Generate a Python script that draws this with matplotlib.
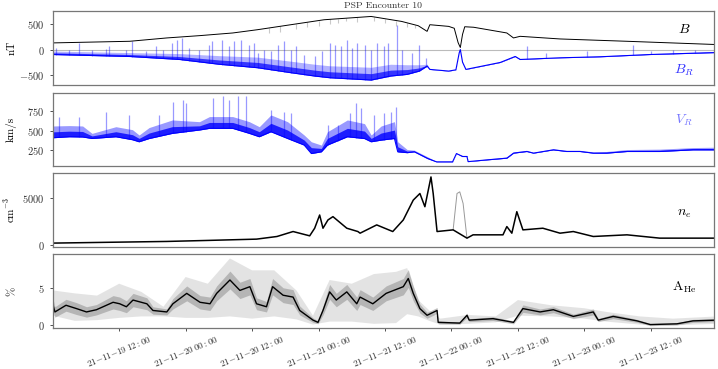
import numpy as np
import pandas as pd
import matplotlib
matplotlib.use("Agg")
import matplotlib.pyplot as plt
from matplotlib.ticker import FuncFormatter

plt.rcParams['font.family'] = 'serif'
plt.rcParams['font.serif'] = ['cmr10', 'DejaVu Serif']
plt.rcParams['mathtext.fontset'] = 'cm'
plt.rcParams['axes.formatter.use_mathtext'] = True

T0 = pd.Timestamp('2021-11-19 00:00')

# ---- |B| (nT), times in hours since T0 ----
b_t = [0, 13.9, 20.6, 26.6, 32.5, 37, 43, 49, 57.5, 63, 66, 67.6, 68.1, 71.5, 72.5,
       73.2, 73.6, 74.0, 74.4, 76, 82, 83.2, 84.4, 91.6, 103.7, 120]
b_val = [131, 163, 229, 275, 327, 392, 490, 588, 653, 555, 470, 359, 490, 457, 420,
         137, 40, 300, 450, 440, 327, 229, 261, 209, 163, 98]
b_dip_t = [39, 41, 44, 46, 48, 50, 51.5, 53, 55, 58, 60, 62, 64, 65.5]
b_dip_val = [330, 350, 400, 440, 470, 500, 520, 560, 540, 560, 520, 470, 450, 420]

# ---- B_R (nT) ----
br_t = [0, 13.9, 22.9, 30, 37, 43, 47.3, 50, 57.5, 61, 64, 66.2, 67.6, 68.1, 71.5,
        72.8, 73.4, 73.6, 74.0, 74.6, 80.8, 83.5, 84.4, 91.6, 98.8, 107.9, 120]
br_base = [-98, -137, -196, -290, -359, -457, -523, -556, -602, -523, -490, -425, -327,
           -392, -425, -400, -65, 0, -250, -392, -255, -137, -196, -163, -143, -98, -59]
br_fuzz = [-30, -60, -80, -120, -150, -230, -290, -320, -350, -290, -300, -300, -290,
           -385, -415, -390, -60, 0, -240, -380, -240, -120, -180, -150, -125, -80, -35]
br_spk_t = [0.6, 3.0, 4.8, 7.1, 9.6, 10.2, 13.3, 14.4, 16.9, 18.7, 19.9, 21.6, 22.5,
            23.4, 24.6, 26.5, 28.3, 28.8, 30.6, 31.8, 32.8, 34, 35.5, 36.4, 37, 38.2,
            39.4, 40.6, 41.8, 43, 43.9, 45.4, 47.3, 48.7, 50, 50.9, 52.1, 53.2, 54.1,
            55, 56.3, 57.5, 58.5, 59.9, 60.5, 62.1, 63, 64.8, 66.2, 67.4, 85.6, 89,
            96.5, 104.8, 108, 112, 116]
br_spk_val = [33, 0, 131, 0, 13, 65, 0, 163, -20, 65, 0, 131, 196,
              229, 33, 0, 98, 163, 196, 65, 163, 196, 98, 131, -65, 0,
              -33, 98, 163, 0, 65, -98, -131, -33, 131, 98, 65, 196, 33,
              131, 98, 0, 131, 65, 131, 490, 0, -65, 98, -163, 65, -59,
              -26, 98, -20, -10, -5]

# ---- V_R (km/s) ----
vr_t = [0, 3.0, 5.4, 7.1, 11.4, 14.4, 15.6, 17.4, 21.6, 26.5, 28.3, 32.5, 35.5, 37.3,
        39.4, 42.4, 45.4, 46.7, 48.5, 49.6, 53.2, 56.3, 57.5, 59.3, 61.7, 62.3, 64,
        65.3, 67.7, 69.3, 72.2, 72.9, 74.0, 74.8, 75, 78.4, 82, 83.2, 85.6, 86.8, 90.4,
        92.8, 95.2, 97.6, 100, 103.7, 109.6, 115.6, 120]
vr_base = [410, 423, 420, 401, 423, 385, 359, 400, 466, 509, 530, 530, 466, 423,
           487, 401, 317, 209, 231, 317, 423, 400, 359, 380, 401, 231, 220,
           231, 145, 103, 103, 209, 171, 171, 106, 128, 150, 214, 235, 214, 256,
           235, 235, 214, 214, 235, 235, 256, 256]
vr_fuzz = [560, 565, 560, 466, 551, 513, 445, 540, 637, 615, 680, 680, 615, 551,
           701, 615, 445, 359, 317, 487, 637, 590, 445, 560, 615, 359, 260,
           252, 167, 110, 110, 215, 185, 185, 112, 140, 165, 230, 250, 225, 270,
           250, 250, 230, 235, 260, 265, 285, 290]
vr_spk_t = [1.2, 4.8, 9.6, 13.8, 19.2, 21.7, 23.5, 24.1, 28.9, 30.7, 31.9, 33.4, 34.9,
            39.4, 41.8, 43, 49.7, 51.5, 53.6, 54.8, 55.7, 58.1, 59.9, 61.1, 62]
vr_spk_val = [680, 673, 744, 701, 701, 872, 893, 850, 915, 936, 893, 936, 936,
              765, 744, 722, 573, 573, 722, 850, 787, 701, 722, 744, 808]

# ---- n_e (cm^-3) ----
ne_t = [0, 20.6, 27.8, 36.8, 40.5, 43.4, 46.4, 47.3, 48.2, 48.8, 49.7, 50.6, 53.1, 55.1,
        55.5, 58.5, 61.4, 63.3, 65.1, 66.3, 67.2, 68.3, 68.7, 69.4, 72.3, 74.8, 75.9,
        81.3, 82, 82.9, 83.8, 84.9, 88.5, 91.6, 94, 97.6, 103.7, 109.6, 115.6, 120]
ne_val = [177, 355, 461, 603, 887, 1418, 957, 1773, 3190, 1773, 2660, 3014, 1773, 1418,
          1241, 2128, 1418, 2660, 4787, 5496, 4078, 7270, 5496, 1418, 1596, 709, 1064,
          1064, 1950, 1241, 3546, 1596, 1773, 1241, 1418, 887, 1064, 709, 709, 709]
ne_gap_t = [72.3, 73.0, 73.5, 74.1, 74.8]
ne_gap_val = [1596, 5496, 5674, 4433, 709]

# ---- A_He (%) ----
ahe_t = [0, 0.4, 2.4, 4.3, 6.1, 7.9, 10.9, 12.1, 13.3, 14.5, 17, 18.1, 20.6, 21.7, 24.2,
         26.6, 28.4, 29.6, 32, 33.8, 35.6, 36.8, 38.6, 39.7, 41.6, 43.4, 44.6, 47, 47.9,
         48.8, 50, 51.2, 53.1, 54.9, 55.5, 57.8, 60.2, 63.3, 64.2, 65.1, 66.3, 67.6,
         69.4, 69.6, 73.5, 74.8, 75.2, 79.5, 83.2, 84.9, 88, 90.4, 94, 97.6, 98.5,
         101.2, 105.5, 107.9, 112.7, 115.6, 120]
ahe_val = [2.9, 1.8, 2.7, 2.25, 1.8, 2.1, 3.1, 2.9, 2.5, 3.4, 2.9, 2.0, 1.8, 2.9, 4.3,
           3.1, 2.9, 4.3, 6.1, 4.7, 5.2, 2.9, 2.5, 5.2, 4.05, 3.8, 2.0, 0.7, 0.4,
           2.0, 4.5, 3.4, 4.5, 2.9, 3.8, 2.9, 4.3, 5.2, 6.3, 4.3, 2.25, 1.35,
           2.0, 0.4, 0.3, 1.35, 0.7, 0.9, 0.4, 2.25, 1.8, 2.1, 1.2, 1.8, 0.7,
           1.2, 0.6, 0.1, 0.2, 0.6, 0.7]
ahe_err = [0.8, 0.7, 0.8, 0.8, 0.7, 0.7, 0.9, 0.9, 0.8, 0.9, 0.8, 0.5, 0.4, 0.7, 1.0,
           0.9, 0.9, 1.0, 1.2, 1.1, 1.1, 0.8, 0.7, 1.1, 1.0, 1.0, 0.6, 0.3, 0.2,
           0.6, 1.0, 0.9, 1.0, 0.9, 1.0, 0.9, 1.0, 1.1, 1.2, 1.0, 0.6, 0.4,
           0.4, 0.2, 0.15, 0.3, 0.2, 0.25, 0.2, 0.5, 0.4, 0.4, 0.3, 0.4, 0.2,
           0.3, 0.2, 0.15, 0.15, 0.2, 0.2]
band_t = [0, 4, 8, 12, 16, 20, 24, 28, 32, 36, 40, 44, 47, 50, 54, 58, 62, 64, 66, 68,
          70, 75, 80, 84, 90, 96, 100, 106, 112, 120]
band_hi = [4.7, 4.3, 4.0, 5.6, 4.5, 2.5, 6.5, 5.6, 9.0, 7.4, 7.4, 4.7, 1.3, 6.1, 5.6,
           6.9, 7.2, 7.7, 3.4, 2.0, 0.9, 1.4, 1.2, 3.4, 2.7, 2.3, 1.8, 1.2, 0.9, 1.2]
band_lo = [1.3, 0.6, 0.7, 1.0, 1.2, 1.2, 1.0, 1.0, 1.2, 0.9, 1.2, 0.8, 0.1, 0.5, 0.5,
           0.2, 0.3, 1.5, 1.2, 0.6, 0.1, 0.2, 0.4, 1.3, 1.2, 0.9, 0.5, 0.1, 0.0, 0.2]

tick_hours = [12, 24, 36, 48, 60, 72, 84, 96, 108]


def tt(h):
    return T0 + pd.to_timedelta(np.asarray(h, float), unit='h')


def date_fmt(x, pos):
    d = matplotlib.dates.num2date(x)
    return r'$\mathdefault{%s{-}%s{-}%s\;%s{:}%s}$' % (
        d.strftime('%y'), d.strftime('%m'), d.strftime('%d'), d.strftime('%H'), d.strftime('%M'))


def spiky_fill(ax, t, base, top, color, a_dense, a_light):
    # dense core near the baseline, lighter fuzz above it
    base = np.asarray(base, float)
    top = np.asarray(top, float)
    ax.fill_between(tt(t), base, top, color=color, alpha=a_light, lw=0)
    ax.fill_between(tt(t), base, base + 0.5 * (top - base), color=color, alpha=a_dense, lw=0)


fig = plt.figure(figsize=(7.18, 3.69), dpi=100)
rects = [(0.0738, 0.7696, 0.9206, 0.2005),
         (0.0738, 0.5501, 0.9206, 0.1978),
         (0.0738, 0.3314, 0.9206, 0.1989),
         (0.0738, 0.1103, 0.9206, 0.2014)]
axes = []
for r in rects:
    ax = fig.add_axes(r, sharex=axes[0] if axes else None)
    axes.append(ax)
    for s in ax.spines.values():
        s.set_color('#777777')
        s.set_linewidth(0.9)
    ax.tick_params(axis='y', labelsize=7.5, colors='#333333', length=2.5, width=0.6)
    ax.tick_params(axis='x', labelsize=6.5, colors='#333333', length=2.5, width=0.6, pad=1.5)
ax1, ax2, ax3, ax4 = axes

blue = '#0000ff'

# panel 1: B and B_R
ax1.axhline(0, color='#bbbbbb', lw=0.8, zorder=0)
spiky_fill(ax1, br_t, br_base, br_fuzz, blue, 0.7, 0.3)
ax1.vlines(tt(br_spk_t), np.interp(br_spk_t, br_t, br_base), br_spk_val,
           color=blue, alpha=0.4, lw=0.9)
ax1.plot(tt(br_t), br_base, color=blue, lw=0.8)
ax1.vlines(tt(b_dip_t), b_dip_val, np.interp(b_dip_t, b_t, b_val),
           color='#666666', alpha=0.35, lw=0.8)
ax1.plot(tt(b_t), b_val, color='black', lw=0.7)
ax1.set_ylim(-700, 760)
ax1.set_yticks([-500, 0, 500])
ax1.set_ylabel('nT', fontsize=8)
ax1.text(0.955, 0.75, '$B$', transform=ax1.transAxes, fontsize=10, color='black', ha='center', va='center')
ax1.text(0.955, 0.2, '$B_R$', transform=ax1.transAxes, fontsize=10, color='#3333ff', ha='center', va='center')
ax1.set_title('PSP Encounter 10', fontsize=7, pad=2, color='#333333')

# panel 2: V_R
spiky_fill(ax2, vr_t, vr_base, vr_fuzz, blue, 0.8, 0.4)
ax2.vlines(tt(vr_spk_t), np.interp(vr_spk_t, vr_t, vr_base), vr_spk_val,
           color=blue, alpha=0.4, lw=0.9)
ax2.plot(tt(vr_t), vr_base, color=blue, lw=0.8)
ax2.set_ylim(50, 980)
ax2.set_yticks([250, 500, 750])
ax2.set_ylabel('km/s', fontsize=8)
ax2.text(0.955, 0.63, '$V_R$', transform=ax2.transAxes, fontsize=10, color='#7777ff', ha='center', va='center')

# panel 3: n_e
ax3.plot(tt(ne_gap_t), ne_gap_val, color='#999999', lw=0.7)
ax3.plot(tt(ne_t), ne_val, color='black', lw=1.1)
ax3.set_ylim(-210, 7660)
ax3.set_yticks([0, 5000])
ax3.set_ylabel('cm$^{-3}$', fontsize=8)
ax3.text(0.955, 0.45, '$n_e$', transform=ax3.transAxes, fontsize=10, color='black', ha='center', va='center')

# panel 4: A_He
ax4.fill(np.concatenate([tt(band_t), tt(band_t)[::-1]]),
         np.concatenate([band_hi, band_lo[::-1]]), color='#bbbbbb', alpha=0.4, lw=0)
ahe_v = np.array(ahe_val)
ahe_e = np.array(ahe_err)
ax4.fill_between(tt(ahe_t), ahe_v - ahe_e, ahe_v + ahe_e, color='#888888', alpha=0.5, lw=0)
ax4.plot(tt(ahe_t), ahe_val, color='black', lw=1.0)
ax4.set_ylim(-0.4, 9.6)
ax4.set_yticks([0, 5])
ax4.set_ylabel('%', fontsize=8)
ax4.text(0.955, 0.55, r'$\mathrm{A_{He}}$', transform=ax4.transAxes, fontsize=10, color='black', ha='center', va='center')

ax4.set_xlim(tt([0.05])[0], tt([119.4])[0])
ax4.set_xticks(list(tt(tick_hours)))
ax4.xaxis.set_major_formatter(FuncFormatter(date_fmt))
for lab in ax4.get_xticklabels():
    lab.set_rotation(22)
    lab.set_ha('center')
for ax in (ax1, ax2, ax3):
    ax.tick_params(axis='x', labelbottom=False, length=0)

for ax in axes:
    ax.yaxis.set_label_coords(-0.055, 0.5)

fig.savefig('out.png', dpi=100)
